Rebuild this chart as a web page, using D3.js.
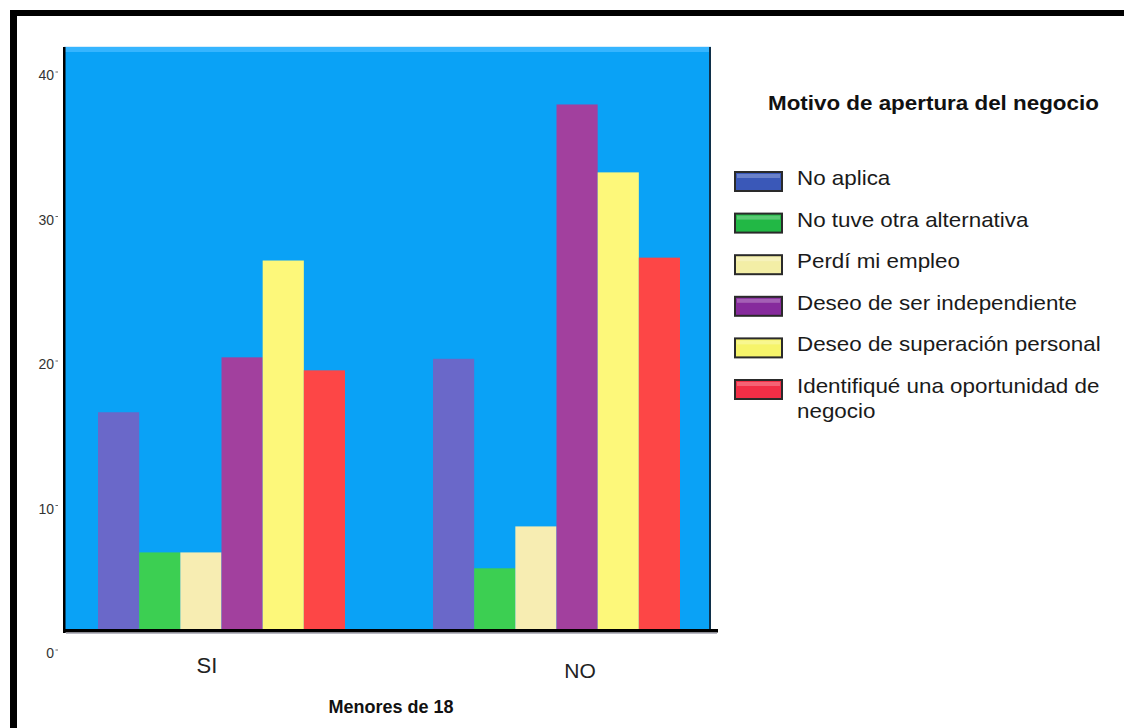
<!DOCTYPE html>
<html>
<head>
<meta charset="utf-8">
<script src="https://cdn.jsdelivr.net/npm/d3@7"></script>
<style>
  html, body { margin: 0; padding: 0; background: #fff; }
  svg { display: block; font-family: "Liberation Sans", Arial, sans-serif; }
</style>
</head>
<body>
<svg id="chart" width="1124" height="728"></svg>
<script>
// ---- data ----
const groups = ["SI", "NO"];
const series = [
  "No aplica",
  "No tuve otra alternativa",
  "Perdí mi empleo",
  "Deseo de ser independiente",
  "Deseo de superación personal",
  "Identifiqué una oportunidad de negocio"
];
const legendLines = [
  ["No aplica"],
  ["No tuve otra alternativa"],
  ["Perdí mi empleo"],
  ["Deseo de ser independiente"],
  ["Deseo de superación personal"],
  ["Identifiqué una oportunidad de", "negocio"]
];
const valuesSI = [15.0, 5.3, 5.3, 18.8, 25.5, 17.9];
const valuesNO = [18.7, 4.2, 7.1, 36.3, 31.6, 25.7];
const yTicks = [0, 10, 20, 30, 40];
const barColors = ["#6a68c9", "#3ccf52", "#f7edb2", "#a2409e", "#fdf87a", "#fd4646"];
const swatchColors = ["#3a58b8", "#22b845", "#f3eea6", "#862b9c", "#f6f46a", "#f22e46"];
const legendTitle = "Motivo de apertura del negocio";
const xTitle = "Menores de 18";

const data = groups.map((g, gi) => ({
  group: g,
  values: series.map((s, si) => ({ series: s, idx: si, value: (gi === 0 ? valuesSI : valuesNO)[si] }))
}));

// ---- layout ----
const svg = d3.select("#chart");
const plot = { left: 64, right: 711, top: 47, bottom: 630 };
const depth = 24; // 3D offset between bar floor and back-wall tick labels

// frame
svg.append("rect").attr("x", 10).attr("y", 10).attr("width", 1124).attr("height", 6).attr("fill", "#000");
svg.append("rect").attr("x", 10).attr("y", 10).attr("width", 7).attr("height", 728).attr("fill", "#000");

// scales
const y = d3.scaleLinear().domain([0, 40]).range([629, 51]);
const x0 = d3.scaleBand().domain(groups).range([54, 724]).padding(0);
const x1 = d3.scaleBand().domain(series).range([-123.5, 123.5]);

// plot background
svg.append("rect").attr("x", plot.left).attr("y", plot.top)
  .attr("width", plot.right - plot.left).attr("height", plot.bottom - plot.top)
  .attr("fill", "#0aa2f6");
svg.append("rect").attr("x", plot.left).attr("y", plot.top)
  .attr("width", plot.right - plot.left).attr("height", 5)
  .attr("fill", "#36b5ff");
svg.append("rect").attr("x", plot.left).attr("y", plot.top - 1)
  .attr("width", plot.right - plot.left).attr("height", 1)
  .attr("fill", "#d8eefc");

// bars
const gGroup = svg.append("g").selectAll("g.grp").data(data).join("g")
  .attr("class", "grp")
  .attr("transform", d => `translate(${x0(d.group) + x0.bandwidth() / 2},0)`);
gGroup.selectAll("rect").data(d => d.values).join("rect")
  .attr("x", d => x1(d.series))
  .attr("width", x1.bandwidth())
  .attr("y", d => y(d.value))
  .attr("height", d => y(0) - y(d.value))
  .attr("fill", d => barColors[d.idx]);

// plot edges
svg.append("rect").attr("x", plot.left - 1).attr("y", plot.top).attr("width", 2.5).attr("height", plot.bottom - plot.top + 3).attr("fill", "#000");
svg.append("rect").attr("x", plot.right - 2).attr("y", plot.top).attr("width", 2).attr("height", plot.bottom - plot.top).attr("fill", "#10304a");
svg.append("rect").attr("x", plot.left - 1).attr("y", plot.bottom - 1).attr("width", plot.right - plot.left + 8).attr("height", 3.5).attr("fill", "#000");
svg.append("rect").attr("x", plot.left + 2).attr("y", plot.bottom + 2.5).attr("width", plot.right - plot.left + 4).attr("height", 1.2).attr("fill", "#9a9aa8");

// y tick labels (back wall, shifted by depth)
const gy = svg.append("g").attr("transform", `translate(0,${depth})`);
gy.selectAll("text").data(yTicks).join("text")
  .attr("x", 54).attr("y", d => y(d) + 5)
  .attr("text-anchor", "end")
  .attr("font-size", 14).attr("fill", "#333")
  .text(d => d);
gy.selectAll("line").data(yTicks).join("line")
  .attr("x1", 55.5).attr("x2", 58).attr("y1", d => y(d) - 3).attr("y2", d => y(d) - 3)
  .attr("stroke", "#666").attr("stroke-width", 1);

// x category labels
const xLabelPos = { SI: [207, 673, 22], NO: [580, 678, 21] };
svg.append("g").selectAll("text").data(groups).join("text")
  .attr("x", d => xLabelPos[d][0]).attr("y", d => xLabelPos[d][1])
  .attr("text-anchor", "middle").attr("font-size", d => xLabelPos[d][2]).attr("fill", "#222")
  .text(d => d);

// x title
svg.append("text").attr("x", 391).attr("y", 713).attr("text-anchor", "middle")
  .attr("font-size", 18).attr("font-weight", "bold").attr("fill", "#111")
  .text(xTitle);

// legend (text horizontally stretched like the source)
const sx = 1.12;
svg.append("text").attr("transform", `translate(768,110) scale(${sx},1)`)
  .attr("font-size", 20).attr("font-weight", "bold").attr("fill", "#111")
  .text(legendTitle);
const lg = svg.append("g").selectAll("g").data(legendLines).join("g")
  .attr("transform", (d, i) => `translate(0,${178 + i * 41.6})`);
lg.append("rect").attr("x", 735).attr("y", -6).attr("width", 47).attr("height", 19)
  .attr("fill", (d, i) => swatchColors[i]).attr("stroke", "#2a2a2a").attr("stroke-width", 2);
lg.append("rect").attr("x", 737).attr("y", -4).attr("width", 43).attr("height", 4)
  .attr("fill", "#ffffff").attr("opacity", 0.25);
lg.selectAll("text").data(d => d).join("text")
  .attr("transform", (d, j) => `translate(797,${7 + j * 25}) scale(${sx},1)`)
  .attr("font-size", 20).attr("fill", "#1a1a1a")
  .text(d => d);
</script>
</body>
</html>
